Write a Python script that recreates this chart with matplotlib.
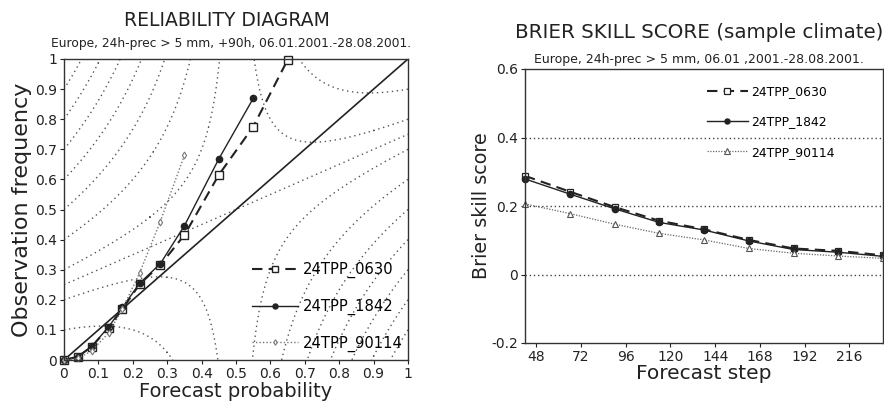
import numpy as np
import matplotlib
matplotlib.use("Agg")
import matplotlib.pyplot as plt

# ---------------- data: reliability diagram ----------------
rel_p_0630 = [0.0, 0.04, 0.08, 0.13, 0.17, 0.22, 0.28, 0.35, 0.45, 0.55, 0.65]
rel_o_0630 = [0.0, 0.011, 0.044, 0.107, 0.17, 0.252, 0.316, 0.415, 0.615, 0.775, 0.997]
rel_p_1842 = [0.0, 0.04, 0.08, 0.13, 0.17, 0.22, 0.28, 0.35, 0.45, 0.55]
rel_o_1842 = [0.0, 0.01, 0.045, 0.11, 0.175, 0.255, 0.32, 0.446, 0.668, 0.869]
rel_p_90114 = [0.0, 0.04, 0.08, 0.13, 0.17, 0.22, 0.28, 0.35]
rel_o_90114 = [0.0, 0.005, 0.03, 0.09, 0.17, 0.29, 0.46, 0.68]
bs_levels = [0.1, 0.2, 0.3, 0.4, 0.5, 0.6, 0.7, 0.8, 0.9]
bs_mid_line_p = [0.0, 1.0]
bs_mid_line_o = [0.25, 0.75]
rel_ticks = [0, 0.1, 0.2, 0.3, 0.4, 0.5, 0.6, 0.7, 0.8, 0.9, 1]
rel_ticklabels = ["0", "0.1", "0.2", "0.3", "0.4", "0.5", "0.6", "0.7", "0.8", "0.9", "1"]

# ---------------- data: Brier skill score ----------------
steps = [42, 66, 90, 114, 138, 162, 186, 210, 234]
bss_0630 = [0.288, 0.242, 0.197, 0.157, 0.132, 0.101, 0.076, 0.069, 0.056]
bss_1842 = [0.279, 0.235, 0.192, 0.152, 0.130, 0.098, 0.073, 0.065, 0.053]
bss_90114 = [0.206, 0.178, 0.147, 0.120, 0.101, 0.076, 0.062, 0.054, 0.047]
step_ticks = [48, 72, 96, 120, 144, 168, 192, 216]
bss_ticks = [-0.2, 0, 0.2, 0.4, 0.6]
bss_ticklabels = ["-0.2", "0", "0.2", "0.4", "0.6"]
bss_grid = [0, 0.2, 0.4]

labels = ["24TPP_0630", "24TPP_1842", "24TPP_90114"]

W, H = 884, 403
fig = plt.figure(figsize=(W / 100, H / 100), dpi=100)
fig.patch.set_facecolor("white")

def fx(px):
    return px / W

def fy(py):
    return 1 - py / H

# ---------- left axes ----------
axL = fig.add_axes([fx(64), fy(360), fx(408) - fx(64), fy(59) - fy(360)])
pp, oo = np.meshgrid(np.linspace(0, 1, 401), np.linspace(0, 1, 401))
bs = oo * (1 - pp) ** 2 + (1 - oo) * pp ** 2
axL.contour(pp, oo, bs, levels=bs_levels, colors="#555555",
            linewidths=1.0, linestyles=[(0, (1, 2.6))])
axL.plot(bs_mid_line_p, bs_mid_line_o, color="#555555", lw=1.0, ls=(0, (1, 2.6)))
axL.plot([0, 1], [0, 1], color="#222222", lw=1.2)
axL.plot(rel_p_0630, rel_o_0630, color="#222222", lw=1.5, ls=(0, (5, 3)),
         marker="s", ms=6, mfc="white", mec="#222222", mew=1.0, clip_on=False,
         label=labels[0])
axL.plot(rel_p_1842, rel_o_1842, color="#222222", lw=1.0, ls="-",
         marker="o", ms=4.5, mfc="#222222", mec="#222222", clip_on=False,
         label=labels[1])
axL.plot(rel_p_90114, rel_o_90114, color="#777777", lw=1.0, ls=(0, (1, 1.5)),
         marker="d", ms=3.5, mfc="white", mec="#777777", mew=0.8, clip_on=False,
         label=labels[2])
axL.set_xlim(0, 1)
axL.set_ylim(0, 1)
axL.set_xticks(rel_ticks)
axL.set_xticklabels(rel_ticklabels)
axL.set_yticks(rel_ticks)
axL.set_yticklabels(rel_ticklabels)
axL.tick_params(direction="out", length=3, width=0.8, labelsize=10, pad=2, colors="#222222")
for s in axL.spines.values():
    s.set_linewidth(1.0)
    s.set_color("#333333")
axL.set_xlabel("Forecast probability", fontsize=14, color="#222222", labelpad=1)
axL.set_ylabel("Observation frequency", fontsize=16, color="#222222", labelpad=2)
axL.legend(loc="upper left", bbox_to_anchor=(fx(252), fy(262)),
           bbox_transform=fig.transFigure, frameon=False, fontsize=10.6,
           handlelength=3.1, handletextpad=0.35, labelspacing=1.4,
           borderpad=0, borderaxespad=0, markerscale=0.8)

fig.text(fx(227), fy(21), "RELIABILITY DIAGRAM", ha="center", va="center",
         fontsize=13.5, color="#222222")
fig.text(fx(231), fy(43), "Europe, 24h-prec > 5 mm, +90h, 06.01.2001.-28.08.2001.",
         ha="center", va="center", fontsize=8.8, color="#222222")

# ---------- right axes ----------
axR = fig.add_axes([fx(525), fy(343), fx(883) - fx(525), fy(69) - fy(343)])
for g in bss_grid:
    axR.axhline(g, color="#444444", lw=1.0, ls=(0, (1, 2)))
axR.plot(steps, bss_0630, color="#222222", lw=1.5, ls=(0, (5, 3)),
         marker="s", ms=5, mfc="white", mec="#222222", mew=0.9, clip_on=False,
         label=labels[0])
axR.plot(steps, bss_1842, color="#222222", lw=1.0, ls="-",
         marker="o", ms=4.5, mfc="#222222", mec="#222222", clip_on=False,
         label=labels[1])
axR.plot(steps, bss_90114, color="#666666", lw=0.9, ls=(0, (1, 1.2)),
         marker="^", ms=5, mfc="white", mec="#555555", mew=0.8, clip_on=False,
         label=labels[2])
axR.set_xlim(steps[0], steps[-1])
axR.set_ylim(-0.2, 0.6)
axR.set_xticks(step_ticks)
axR.set_yticks(bss_ticks)
axR.set_yticklabels(bss_ticklabels)
axR.tick_params(direction="out", length=3, width=0.8, labelsize=10, pad=2, colors="#222222")
for s in axR.spines.values():
    s.set_linewidth(1.0)
    s.set_color("#333333")
axR.set_xlabel("Forecast step", fontsize=14.5, color="#222222", labelpad=0)
axR.set_ylabel("Brier skill score", fontsize=13.8, color="#222222", labelpad=0)
axR.legend(loc="upper left", bbox_to_anchor=(fx(707), fy(85)),
           bbox_transform=fig.transFigure, frameon=False, fontsize=8.9,
           handlelength=3.3, handletextpad=0.3, labelspacing=1.4,
           borderpad=0, borderaxespad=0, markerscale=0.8)

fig.text(fx(699), fy(33), "BRIER SKILL SCORE (sample climate)", ha="center", va="center",
         fontsize=14.3, color="#222222")
fig.text(fx(699), fy(59), "Europe, 24h-prec > 5 mm, 06.01 ,2001.-28.08.2001.",
         ha="center", va="center", fontsize=9.0, color="#222222")

fig.savefig("out.png", dpi=100, facecolor="white")
